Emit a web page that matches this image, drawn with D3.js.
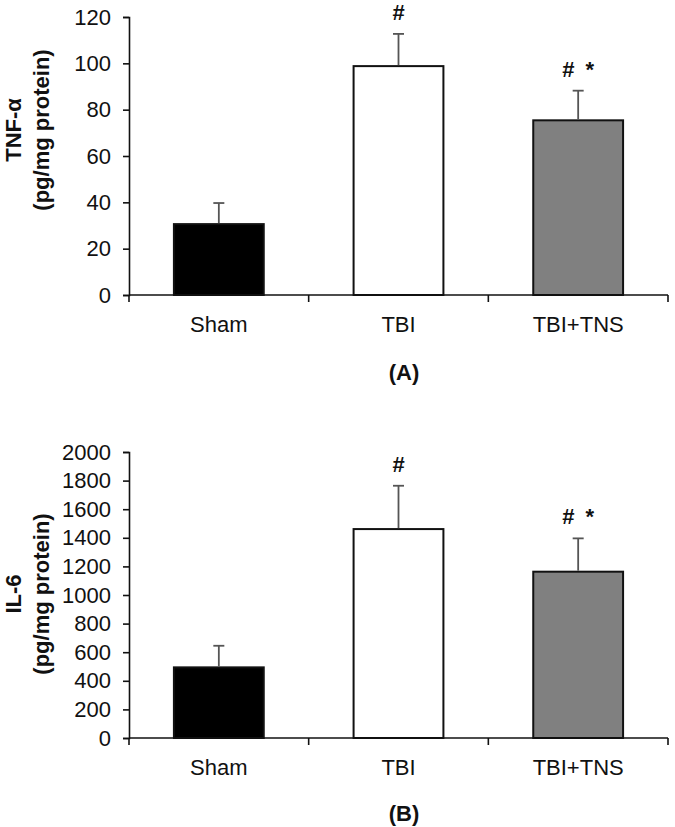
<!DOCTYPE html>
<html>
<head>
<meta charset="utf-8">
<script src="https://cdn.jsdelivr.net/npm/d3@7"></script>
<style>
  html, body { margin: 0; padding: 0; background: #fff; }
  svg { display: block; font-family: "Liberation Sans", Arial, sans-serif; }
  text.ann { white-space: pre; word-spacing: 5px; }
</style>
</head>
<body>
<svg id="chart" width="675" height="827"></svg>
<script>
// ---- data ----
const categories = ["Sham", "TBI", "TBI+TNS"];
const tnfMean = [30.6, 98.8, 75.4];
const tnfErr  = [9.1, 13.9, 12.8];
const il6Mean = [494, 1461, 1163];
const il6Err  = [151, 303, 233];
const tnfTicks = [0, 20, 40, 60, 80, 100, 120];
const il6Ticks = [0, 200, 400, 600, 800, 1000, 1200, 1400, 1600, 1800, 2000];
const annotations = ["", "#", "# *"];
const barFills = ["#000000", "#ffffff", "#808080"];

// ---- layout ----
const panels = [
  { mean: tnfMean, err: tnfErr, ticks: tnfTicks, max: 120, top: 17, bottom: 295,
    title1: "TNF-α", title2: "(pg/mg protein)", titleY: 130, label: "(A)", labelY: 380 },
  { mean: il6Mean, err: il6Err, ticks: il6Ticks, max: 2000, top: 452, bottom: 738,
    title1: "IL-6", title2: "(pg/mg protein)", titleY: 594, label: "(B)", labelY: 821 }
];
const left = 129, right = 668;
const svg = d3.select("#chart");

panels.forEach(p => {
  const g = svg.append("g");
  const x = d3.scaleBand().domain(categories).range([left, right]).paddingInner(0.5).paddingOuter(0.25);
  const y = d3.scaleLinear().domain([0, p.max]).range([p.bottom, p.top]);

  // bars
  g.selectAll("rect.bar").data(categories).join("rect")
    .attr("class", "bar")
    .attr("x", d => x(d))
    .attr("width", x.bandwidth())
    .attr("y", (d, i) => y(p.mean[i]))
    .attr("height", (d, i) => y(0) - y(p.mean[i]))
    .attr("fill", (d, i) => barFills[i])
    .attr("stroke", "#111")
    .attr("stroke-width", 2);

  // error bars (upper only)
  const cx = d => x(d) + x.bandwidth() / 2;
  g.selectAll("line.err").data(categories).join("line")
    .attr("x1", cx).attr("x2", cx)
    .attr("y1", (d, i) => y(p.mean[i]) - 1)
    .attr("y2", (d, i) => y(p.mean[i] + p.err[i]))
    .attr("stroke", "#555").attr("stroke-width", 1.8);
  g.selectAll("line.cap").data(categories).join("line")
    .attr("x1", d => cx(d) - 5.5).attr("x2", d => cx(d) + 5.5)
    .attr("y1", (d, i) => y(p.mean[i] + p.err[i]))
    .attr("y2", (d, i) => y(p.mean[i] + p.err[i]))
    .attr("stroke", "#555").attr("stroke-width", 1.8);

  // annotations
  g.selectAll("text.ann").data(categories).join("text")
    .attr("class", "ann")
    .attr("x", cx)
    .attr("y", (d, i) => y(p.mean[i] + p.err[i]) - 14)
    .attr("text-anchor", "middle")
    .attr("font-size", 22).attr("font-weight", "bold")
    .attr("fill", "#111")
    .text((d, i) => annotations[i]);

  // y axis
  const ya = g.append("g").attr("transform", `translate(${left},0)`)
    .call(d3.axisLeft(y).tickValues(p.ticks).tickSize(6).tickPadding(12).tickFormat(d3.format("d")));
  ya.select(".domain").attr("stroke", "#111").attr("stroke-width", 1.6);
  ya.selectAll(".tick line").attr("stroke", "#111").attr("stroke-width", 1.6);
  ya.selectAll("text").attr("font-size", 22).attr("fill", "#111").attr("font-family", "Liberation Sans, Arial, sans-serif");

  // x axis: labels at centres, ticks at band boundaries
  const xa = g.append("g").attr("transform", `translate(0,${p.bottom})`)
    .call(d3.axisBottom(x).tickSize(0).tickPadding(21));
  xa.select(".domain").remove();
  xa.selectAll("text").attr("font-size", 22).attr("fill", "#111").attr("font-family", "Liberation Sans, Arial, sans-serif");
  g.append("line").attr("x1", left).attr("x2", right).attr("y1", p.bottom).attr("y2", p.bottom)
    .attr("stroke", "#111").attr("stroke-width", 1.6);
  const half = (x.step() - x.bandwidth()) / 2;
  const boundaries = categories.map(c => x(c) - half).concat([x(categories[categories.length - 1]) + x.bandwidth() + half]);
  g.selectAll("line.bt").data(boundaries).join("line")
    .attr("x1", d => d).attr("x2", d => d)
    .attr("y1", p.bottom).attr("y2", p.bottom + 7)
    .attr("stroke", "#111").attr("stroke-width", 1.6);

  // y title
  const tx = g.append("g");
  tx.append("text").attr("transform", `translate(13,${p.titleY}) rotate(-90)`)
    .attr("text-anchor", "middle").attr("dominant-baseline", "central")
    .attr("font-size", 22).attr("font-weight", "bold").attr("fill", "#111").text(p.title1);
  tx.append("text").attr("transform", `translate(41,${p.titleY}) rotate(-90)`)
    .attr("text-anchor", "middle").attr("dominant-baseline", "central")
    .attr("font-size", 22).attr("font-weight", "bold").attr("fill", "#111").text(p.title2);

  // panel label
  g.append("text").attr("x", 404).attr("y", p.labelY)
    .attr("text-anchor", "middle").attr("font-size", 22).attr("font-weight", "bold")
    .attr("fill", "#111").text(p.label);
});
</script>
</body>
</html>
